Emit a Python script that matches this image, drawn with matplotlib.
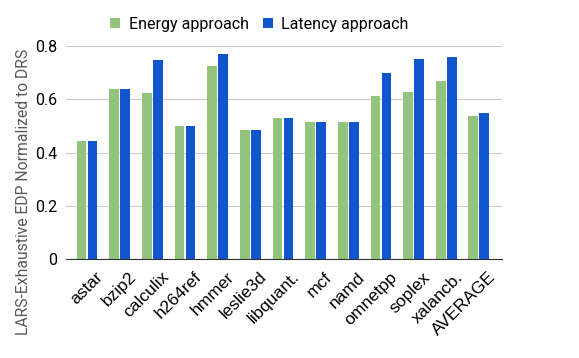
import matplotlib
matplotlib.use('Agg')
import matplotlib.pyplot as plt
import matplotlib.transforms as mtransforms
import numpy as np

benchmarks = ['astar', 'bzip2', 'calculix', 'h264ref', 'hmmer', 'leslie3d', 'libquant.',
              'mcf', 'namd', 'omnetpp', 'soplex', 'xalancb.', 'AVERAGE']
energy = [0.442, 0.637, 0.622, 0.498, 0.723, 0.483, 0.528, 0.514, 0.514, 0.611, 0.626, 0.668, 0.537]
latency = [0.442, 0.637, 0.746, 0.498, 0.768, 0.483, 0.528, 0.514, 0.514, 0.697, 0.750, 0.757, 0.547]

plt.rcParams['font.family'] = ['Roboto', 'DejaVu Sans']

fig = plt.figure(figsize=(5.79, 3.58), dpi=100)
ax = fig.add_axes([0.1135, 0.2757, 0.753, 0.5966])

x = np.arange(len(benchmarks))
w = 0.297
ax.bar(x - w / 2 - 0.02, energy, w, color='#93c47d', label='Energy approach', zorder=3)
ax.bar(x + w / 2 + 0.02, latency, w, color='#1155cc', label='Latency approach', zorder=3)

ax.set_xlim(-0.65, len(benchmarks) - 0.3)
ax.set_ylim(0, 0.8)
ax.set_yticks([0, 0.2, 0.4, 0.6, 0.8])
ax.set_yticklabels(['0', '0.2', '0.4', '0.6', '0.8'], fontsize=11.5)
ax.yaxis.grid(True, color='#cccccc', linewidth=0.8, zorder=0)
ax.set_xticks(x)
ax.set_xticklabels(benchmarks, rotation=45, ha='right', va='center', rotation_mode='anchor',
                   fontsize=12.5, family=['Liberation Sans', 'DejaVu Sans'])
ax.tick_params(axis='y', length=0, pad=6)
ax.tick_params(axis='x', length=0, pad=11)
shift = mtransforms.ScaledTranslation(0.14, 0, fig.dpi_scale_trans)
for lbl in ax.get_xticklabels():
    lbl.set_transform(lbl.get_transform() + shift)
for s in ['top', 'right', 'left']:
    ax.spines[s].set_visible(False)
ax.spines['bottom'].set_color('#333333')
ax.spines['bottom'].set_zorder(4)

ax.set_ylabel('LARS-Exhaustive EDP Normalized to DRS', fontsize=11.3, color='#595959')
ax.yaxis.set_label_coords(-0.08, 0.316)

ax.legend(loc='center', bbox_to_anchor=(0.4445, 1.1), ncol=2, frameon=False, fontsize=11.5,
          handlelength=0.6, handleheight=0.6, handletextpad=0.55, columnspacing=0.9)

plt.savefig('out.png')
